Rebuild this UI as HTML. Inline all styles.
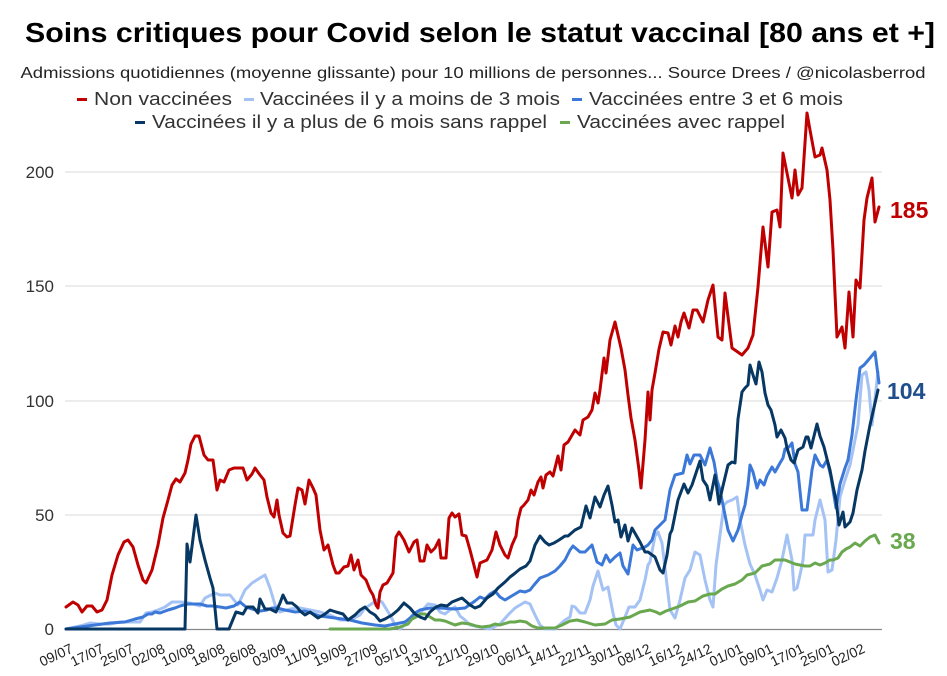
<!DOCTYPE html>
<html><head><meta charset="utf-8"><style>
html,body{margin:0;padding:0;background:#fff;}
svg{display:block;font-family:"Liberation Sans",Arial,sans-serif;}
</style></head><body>
<svg width="947" height="676" viewBox="0 0 947 676">
<rect width="947" height="676" fill="#fff"/>
<text x="480" y="42" text-anchor="middle" font-size="28" font-weight="bold" fill="#000" textLength="910" lengthAdjust="spacingAndGlyphs">Soins critiques pour Covid selon le statut vaccinal [80 ans et +]</text>
<text x="473" y="78" text-anchor="middle" font-size="16" fill="#222" textLength="905" lengthAdjust="spacingAndGlyphs">Admissions quotidiennes (moyenne glissante) pour 10 millions de personnes... Source Drees / @nicolasberrod</text>
<g font-size="18.5" fill="#333">
<rect x="77" y="98" width="10" height="3" fill="#c00000"/>
<text x="94" y="105" textLength="138" lengthAdjust="spacingAndGlyphs">Non vaccinées</text>
<rect x="244" y="98" width="10" height="3" fill="#a4c2f4"/>
<text x="260" y="105" textLength="300" lengthAdjust="spacingAndGlyphs">Vaccinées il y a moins de 3 mois</text>
<rect x="572" y="98" width="10" height="3" fill="#3c78d8"/>
<text x="589" y="105" textLength="254" lengthAdjust="spacingAndGlyphs">Vaccinées entre 3 et 6 mois</text>
<rect x="135" y="121" width="10" height="3" fill="#073763"/>
<text x="152" y="128" textLength="395" lengthAdjust="spacingAndGlyphs">Vaccinées il y a plus de 6 mois sans rappel</text>
<rect x="560" y="121" width="10" height="3" fill="#6aa84f"/>
<text x="577" y="128" textLength="208" lengthAdjust="spacingAndGlyphs">Vaccinées avec rappel</text>
</g>
<g stroke="#d9d9d9" stroke-width="1">
<line x1="65" y1="172" x2="882" y2="172"/>
<line x1="65" y1="286" x2="882" y2="286"/>
<line x1="65" y1="401" x2="882" y2="401"/>
<line x1="65" y1="515" x2="882" y2="515"/>
</g>
<line x1="65" y1="629.5" x2="882" y2="629.5" stroke="#888" stroke-width="1.2"/>
<g font-size="17" fill="#333" text-anchor="end">
<text x="54" y="178">200</text>
<text x="54" y="292">150</text>
<text x="54" y="407">100</text>
<text x="54" y="521">50</text>
<text x="54" y="635">0</text>
</g>
<g font-size="14" fill="#222" text-anchor="end">
<text transform="translate(74,652) rotate(-25)">09/07</text>
<text transform="translate(105,652) rotate(-25)">17/07</text>
<text transform="translate(135,652) rotate(-25)">25/07</text>
<text transform="translate(166,652) rotate(-25)">02/08</text>
<text transform="translate(196,652) rotate(-25)">10/08</text>
<text transform="translate(226,652) rotate(-25)">18/08</text>
<text transform="translate(257,652) rotate(-25)">26/08</text>
<text transform="translate(287,652) rotate(-25)">03/09</text>
<text transform="translate(318,652) rotate(-25)">11/09</text>
<text transform="translate(348,652) rotate(-25)">19/09</text>
<text transform="translate(379,652) rotate(-25)">27/09</text>
<text transform="translate(409,652) rotate(-25)">05/10</text>
<text transform="translate(439,652) rotate(-25)">13/10</text>
<text transform="translate(470,652) rotate(-25)">21/10</text>
<text transform="translate(500,652) rotate(-25)">29/10</text>
<text transform="translate(531,652) rotate(-25)">06/11</text>
<text transform="translate(561,652) rotate(-25)">14/11</text>
<text transform="translate(592,652) rotate(-25)">22/11</text>
<text transform="translate(622,652) rotate(-25)">30/11</text>
<text transform="translate(652,652) rotate(-25)">08/12</text>
<text transform="translate(683,652) rotate(-25)">16/12</text>
<text transform="translate(713,652) rotate(-25)">24/12</text>
<text transform="translate(744,652) rotate(-25)">01/01</text>
<text transform="translate(774,652) rotate(-25)">09/01</text>
<text transform="translate(805,652) rotate(-25)">17/01</text>
<text transform="translate(835,652) rotate(-25)">25/01</text>
<text transform="translate(866,652) rotate(-25)">02/02</text>
</g>
<g fill="none" stroke-width="3" stroke-linejoin="round" stroke-linecap="round">
<polyline stroke="#a4c2f4" points="66,629 80,626 90,623 100,624 110,624 120,622 140,622 146,613 152,612 158,610 165,607 172,602 180,602 190,603 200,606 205,598 215,593 220,595 230,595 238,605 245,590 252,583 260,578 265,575 270,588 275,605 280,612 290,609 300,608 310,610 320,612 330,615 340,620 350,620 360,615 365,608 370,605 377,600 382,602 390,615 395,625 400,629 410,620 420,613 428,604 435,605 440,612 445,614 450,610 455,607 460,616 465,620 470,625 480,627 490,629 500,624 508,615 515,608 520,605 525,602 530,604 535,615 540,625 545,629 555,629 565,620 570,617 572,606 575,607 580,613 585,613 590,600 593,586 598,571 603,590 608,587 613,613 616,625 620,629 625,617 629,607 635,607 640,600 645,580 648,565 650,562 655,536 658,532 662,543 665,568 670,610 675,618 680,600 685,578 690,570 695,552 700,555 705,580 710,600 713,607 716,565 720,535 724,505 727,502 732,500 737,497 740,520 745,545 750,564 755,575 760,590 763,600 767,590 772,592 777,578 782,560 787,535 792,560 794,590 797,588 800,575 803,560 805,535 808,535 813,535 815,520 820,500 825,520 828,572 832,570 836,540 840,497 845,480 850,465 855,440 858,425 862,375 866,372 869,390 872,425 878,372"/>
<polyline stroke="#3c78d8" points="66,629 80,627 95,625 110,623 125,622 135,619 143,617 148,614 152,614 155,612 160,613 168,610 175,608 180,606 188,604 193,604 200,604 207,606 213,606 220,607 226,608 234,606 240,602 246,607 252,609 260,611 267,610 272,608 277,608 285,610 295,612 305,611 320,616 335,618 350,620 362,623 375,625 385,626 395,624 405,622 410,618 415,613 420,610 430,608 440,608 455,609 465,608 475,601 480,597 485,599 490,594 495,591 500,597 505,600 510,597 515,594 520,591 525,592 530,590 534,585 540,578 548,575 555,571 560,566 565,560 570,550 573,546 580,552 585,552 592,545 597,562 602,565 606,555 610,562 615,557 620,553 623,566 628,574 633,545 637,550 645,547 648,545 652,540 655,530 660,525 665,520 670,490 675,475 683,473 687,455 690,464 694,455 700,455 705,465 710,448 714,462 717,480 720,490 722,500 725,515 728,530 733,541 738,530 742,515 745,505 748,485 750,465 753,472 757,488 760,480 764,485 767,476 772,467 775,472 780,463 783,458 785,449 789,447 792,443 795,464 798,472 802,510 807,510 810,486 812,470 815,455 820,465 823,467 827,460 831,477 836,508 840,484 845,468 848,460 852,435 856,400 860,368 864,365 870,358 875,352 879,383"/>
<polyline stroke="#6aa84f" points="330,629 370,629 390,629 400,627 408,624 412,619 416,617 420,614 425,614 430,617 435,620 440,620 445,621 450,623 455,625 462,623 470,624 476,626 482,627 490,626 495,624 500,625 510,622 515,622 520,621 526,622 532,626 538,628 545,628 555,628 562,625 570,621 577,620 585,622 595,625 605,624 612,620 620,619 630,617 640,612 650,610 656,612 660,614 666,611 672,609 680,606 688,602 695,601 703,596 710,594 715,594 722,589 728,586 735,584 742,580 747,575 755,573 762,566 770,564 775,560 780,560 785,560 790,562 795,564 800,565 805,566 810,566 815,563 820,565 825,563 830,560 833,560 838,558 842,552 846,549 850,547 855,543 860,546 865,541 870,537 875,535 879,543"/>
<polyline stroke="#073763" points="66,629 185,629 187,544 190,562 196,515 200,540 205,560 210,578 213,588 217,629 223,629 229,629 236,612 243,614 247,607 253,607 258,613 260,599 265,609 270,609 276,612 280,603 283,595 287,603 292,603 297,607 300,611 305,615 310,612 318,618 325,614 330,610 336,612 343,614 348,620 355,615 360,610 365,607 370,612 375,615 380,621 385,619 392,615 398,610 404,603 410,608 415,614 420,617 425,619 430,612 436,607 441,605 447,606 452,602 457,600 462,598 470,605 475,608 480,606 487,598 493,594 498,588 505,582 510,577 514,574 520,569 526,566 530,561 535,545 540,536 545,542 549,545 554,543 559,540 565,536 568,536 575,530 581,527 586,506 590,518 595,497 600,507 604,495 608,486 612,505 615,522 618,520 621,537 625,525 628,541 632,528 640,542 645,552 648,552 655,557 660,570 663,573 667,555 670,534 672,530 678,500 684,484 688,493 692,485 696,473 700,461 703,480 707,486 710,500 715,475 719,504 722,490 728,465 732,462 735,463 738,419 742,392 745,388 748,385 750,365 753,375 756,384 759,362 762,372 765,393 768,405 771,410 775,425 777,437 781,430 785,438 787,448 791,460 794,463 798,450 803,447 806,437 808,437 811,448 817,424 820,436 824,447 827,459 830,470 833,486 836,500 839,525 843,512 845,527 850,522 853,513 857,490 862,470 865,451 870,425 878,390"/>
<polyline stroke="#c00000" points="66,607 73,602 78,605 82,612 87,606 92,606 97,612 102,610 107,600 112,575 118,555 124,542 128,540 133,547 138,565 143,580 146,583 152,570 158,545 163,518 168,500 172,485 176,479 180,482 185,473 188,460 191,444 195,436 199,436 204,455 208,460 213,460 217,490 220,480 224,482 229,470 234,468 243,468 247,480 252,474 255,468 260,475 264,480 267,497 271,513 274,517 277,500 279,515 283,533 287,537 290,536 295,505 298,488 302,490 305,504 309,480 313,488 316,495 320,530 324,550 328,545 333,565 336,573 339,573 344,567 348,566 351,555 354,570 358,560 361,575 366,580 370,590 373,595 376,605 378,608 380,592 383,585 387,583 390,578 393,573 396,537 399,532 404,540 409,552 414,542 417,540 420,561 424,561 427,545 431,552 435,548 439,540 441,558 446,558 449,518 452,513 455,517 459,514 462,535 466,536 470,550 477,577 480,563 487,560 492,550 496,532 500,545 505,555 508,558 512,545 516,536 518,520 521,508 524,505 528,500 531,490 534,495 538,482 541,477 543,488 546,475 550,472 553,476 558,456 561,470 564,445 568,442 575,430 580,435 583,420 588,417 592,410 595,393 598,403 600,390 604,358 606,373 610,340 615,322 618,335 621,348 625,370 628,395 631,418 635,440 639,470 641,488 645,440 648,392 650,420 652,390 655,373 659,349 663,332 668,333 671,345 675,326 678,337 681,322 684,313 689,328 693,310 697,310 703,322 708,300 713,285 718,337 722,340 725,293 732,348 742,355 748,348 753,335 758,287 763,227 768,267 772,212 777,210 780,227 783,153 792,198 795,170 798,195 802,188 807,113 810,130 815,157 820,155 822,148 827,170 830,200 833,250 837,337 842,327 845,348 849,292 853,337 856,280 860,288 864,220 867,198 872,178 875,222 879,207"/>
</g>
<g font-size="23" font-weight="bold">
<text x="890" y="218" fill="#c00000">185</text>
<text x="887" y="399" fill="#1f4e8c">104</text>
<text x="890" y="549" fill="#6aa84f">38</text>
</g>
</svg>
</body></html>
